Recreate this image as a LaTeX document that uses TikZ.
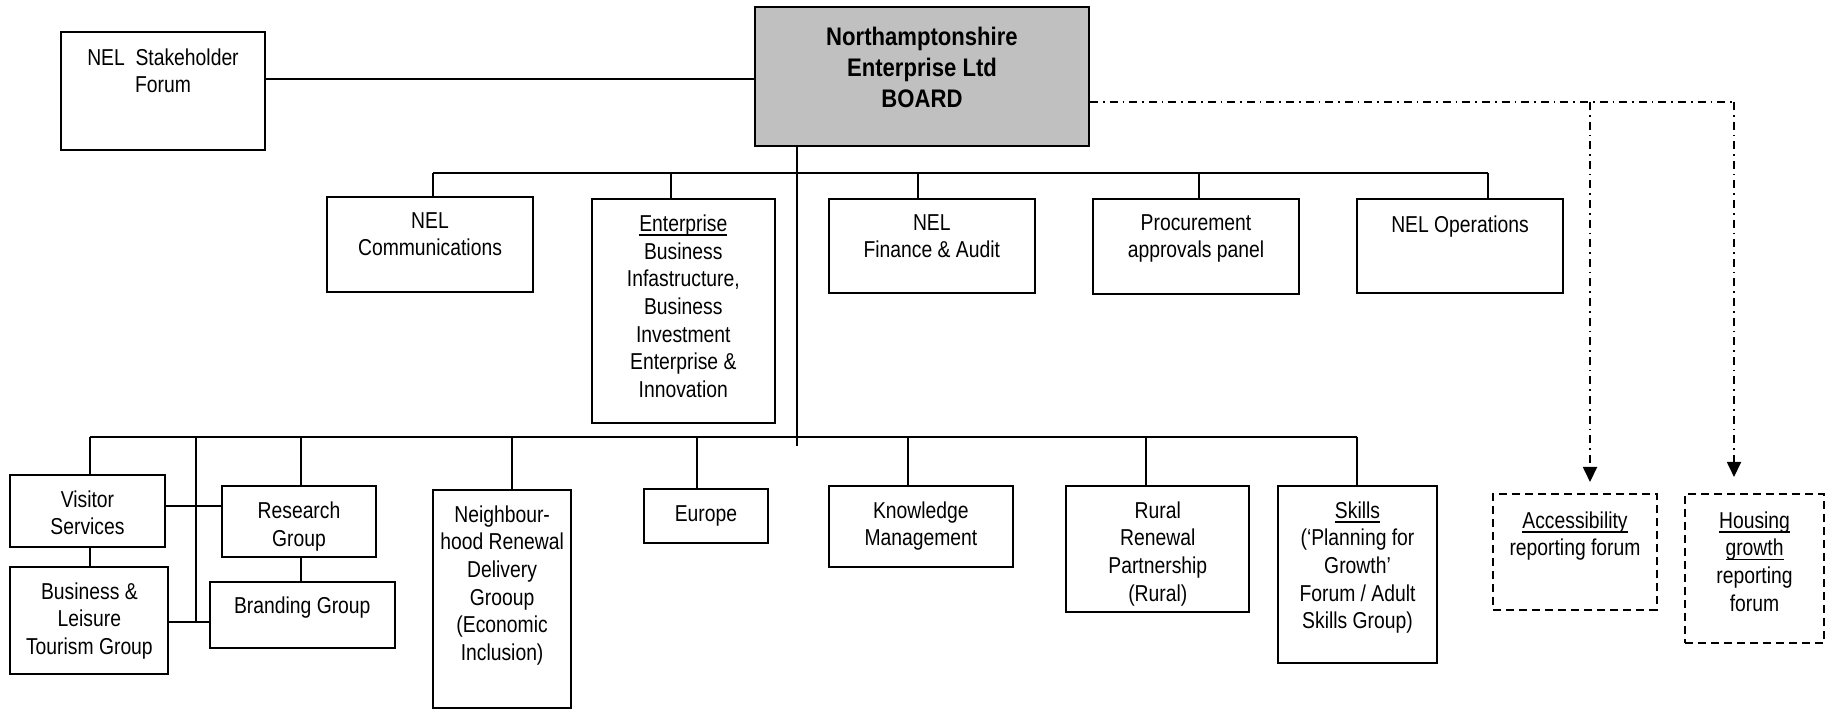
\documentclass[tikz,border=0pt]{standalone}
\usepackage{fontspec}
\setmainfont[FakeStretch=0.84]{Liberation Sans}
\newfontfamily\boardfont[FakeStretch=0.87]{Liberation Sans}
\usetikzlibrary{fit,arrows.meta}
\definecolor{boardgray}{RGB}{192,192,192}
\newsavebox\ulbox
\newcommand\myul[1]{\sbox\ulbox{#1}\rlap{\rule[-2.3pt]{\wd\ulbox}{0.9pt}}\usebox\ulbox}
\tikzset{
  box/.style={draw, line width=1pt, inner sep=0pt},
  dbox/.style={draw, line width=1pt, inner sep=0pt, dash pattern=on 4pt off 2.5pt},
  txt/.style={font=\fontsize{11.5}{13.85}\selectfont, align=center, inner sep=0pt, anchor=north},
  ln/.style={line width=1pt},
  dd/.style={line width=0.9pt, dash pattern=on 4pt off 2.5pt on 0.8pt off 2.5pt},
  arr/.style={-{Triangle[length=7.5pt,width=7pt]}}
}
\begin{document}
\begin{tikzpicture}[x=0.5pt,y=-0.5pt]
\fill[white] (0,0) rectangle (1831,710);
\useasboundingbox (0,0) rectangle (1831,710);

% ---- boxes ----
\node[box, fit={(61,32) (265,150)}] (stake) {};
\node[box, fill=boardgray, fit={(755,7) (1089,146)}] (board) {};
\node[box, fit={(327,197) (533,292)}] (comms) {};
\node[box, fit={(591.5,199) (775,422.7)}] (ent) {};
\node[box, fit={(829,199) (1034.5,293)}] (fin) {};
\node[box, fit={(1093,199) (1299,293.7)}] (proc) {};
\node[box, fit={(1357,199) (1563,293)}] (ops) {};
\node[box, fit={(10.3,475) (164.6,546.7)}] (vis) {};
\node[box, fit={(10.3,566.7) (168.4,674.3)}] (biz) {};
\node[box, fit={(222,485.7) (375.8,557.3)}] (res) {};
\node[box, fit={(210,581.7) (394.6,648.3)}] (brand) {};
\node[box, fit={(432.8,490) (571.4,708)}] (neigh) {};
\node[box, fit={(644,489.3) (767.7,542.7)}] (eur) {};
\node[box, fit={(829,485.7) (1012.8,566.7)}] (know) {};
\node[box, fit={(1066.4,485.7) (1249.2,611.7)}] (rural) {};
\node[box, fit={(1277.6,485.7) (1437.4,662.7)}] (skills) {};
\node[dbox, fit={(1493.3,494) (1656.7,610)}] (acc) {};
\node[dbox, fit={(1685,494) (1824,643)}] (house) {};

% ---- texts ----
\node[txt] (stake-t) at (163,48) {NEL~~Stakeholder\\Forum};
\node[txt, font=\boardfont\bfseries\fontsize{12.7}{15.5}\selectfont] (board-t) at (922,26.5) {Northamptonshire\\Enterprise Ltd\\BOARD};
\node[txt] (comms-t) at (430,212) {NEL\\Communications};
\node[txt] (ent-t) at (683.3,214.3) {\myul{Enterprise}\\Business\\Infastructure,\\Business\\Investment\\Enterprise \&\\Innovation};
\node[txt] (fin-t) at (931.8,214) {NEL\\Finance \& Audit};
\node[txt] (proc-t) at (1196,214) {Procurement\\approvals panel};
\node[txt] (ops-t) at (1460,215) {NEL Operations};
\node[txt] (vis-t) at (87.5,490) {Visitor\\Services};
\node[txt] (biz-t) at (89.4,582) {Business \&\\Leisure\\Tourism Group};
\node[txt] (res-t) at (299,501.7) {Research\\Group};
\node[txt] (brand-t) at (302.3,596) {Branding Group};
\node[txt] (neigh-t) at (502.1,505) {Neighbour-\\hood Renewal\\Delivery\\Grooup\\(Economic\\Inclusion)};
\node[txt] (eur-t) at (705.9,505.3) {Europe};
\node[txt] (know-t) at (920.9,501) {Knowledge\\Management};
\node[txt] (rural-t) at (1157.8,501) {Rural\\Renewal\\Partnership\\(Rural)};
\node[txt] (skills-t) at (1357.5,501) {\myul{Skills}\\(‘Planning for\\Growth’\\Forum / Adult\\Skills Group)};
\node[txt] (acc-t) at (1575,511) {\myul{Accessibility}\\reporting forum};
\node[txt] (house-t) at (1754.5,511) {\myul{Housing}\\\myul{growth}\\reporting\\forum};

% ---- stakeholder link ----
\draw[ln] (stake.east |- 0,79) coordinate (sl) -- (board.west |- sl);

% ---- trunk ----
\coordinate (trk) at (797,446);
\draw[ln] (trk |- board.south) -- (trk);

% ---- top bus ----
\coordinate (tbL) at (433,172.7);
\coordinate (tbR) at (1488,172.7);
\draw[ln] (tbL) -- (tbR);
\foreach \n/\x in {comms/433, ent/670.5, fin/918, proc/1199, ops/1488}{
  \coordinate (d\n) at (\x,172.7);
  \draw[ln] (d\n) -- (d\n |- \n.north);
}

% ---- bottom bus ----
\coordinate (bbL) at (90,436.7);
\coordinate (bbR) at (1357,436.7);
\draw[ln] (bbL) -- (bbR);
\foreach \n/\x in {vis/90, res/301, neigh/512, eur/697, know/908, rural/1146, skills/1357}{
  \coordinate (b\n) at (\x,436.7);
  \draw[ln] (b\n) -- (b\n |- \n.north);
}
\coordinate (bj) at (196,436.7);
\coordinate (jb) at (196,621.7);
\draw[ln] (bj) -- (jb);
\coordinate (h1) at (196,506);
\draw[ln] (vis.east |- h1) -- (res.west |- h1);
\draw[ln] (biz.east |- jb) -- (brand.west |- jb);
\draw[ln] (vis.south -| bvis) -- (biz.north -| bvis);
\draw[ln] (res.south -| bres) -- (brand.north -| bres);

% ---- dash-dot reporting links ----
\coordinate (ac) at (1590,102);
\coordinate (hc) at (1734,102);
\draw[dd] (board.east |- hc) -- (hc);
\draw[dd, arr, shorten >=5.5pt] (ac) -- (ac |- acc.north);
\draw[dd, arr, shorten >=8pt] (hc) -- (hc |- house.north);
\end{tikzpicture}
\end{document}
